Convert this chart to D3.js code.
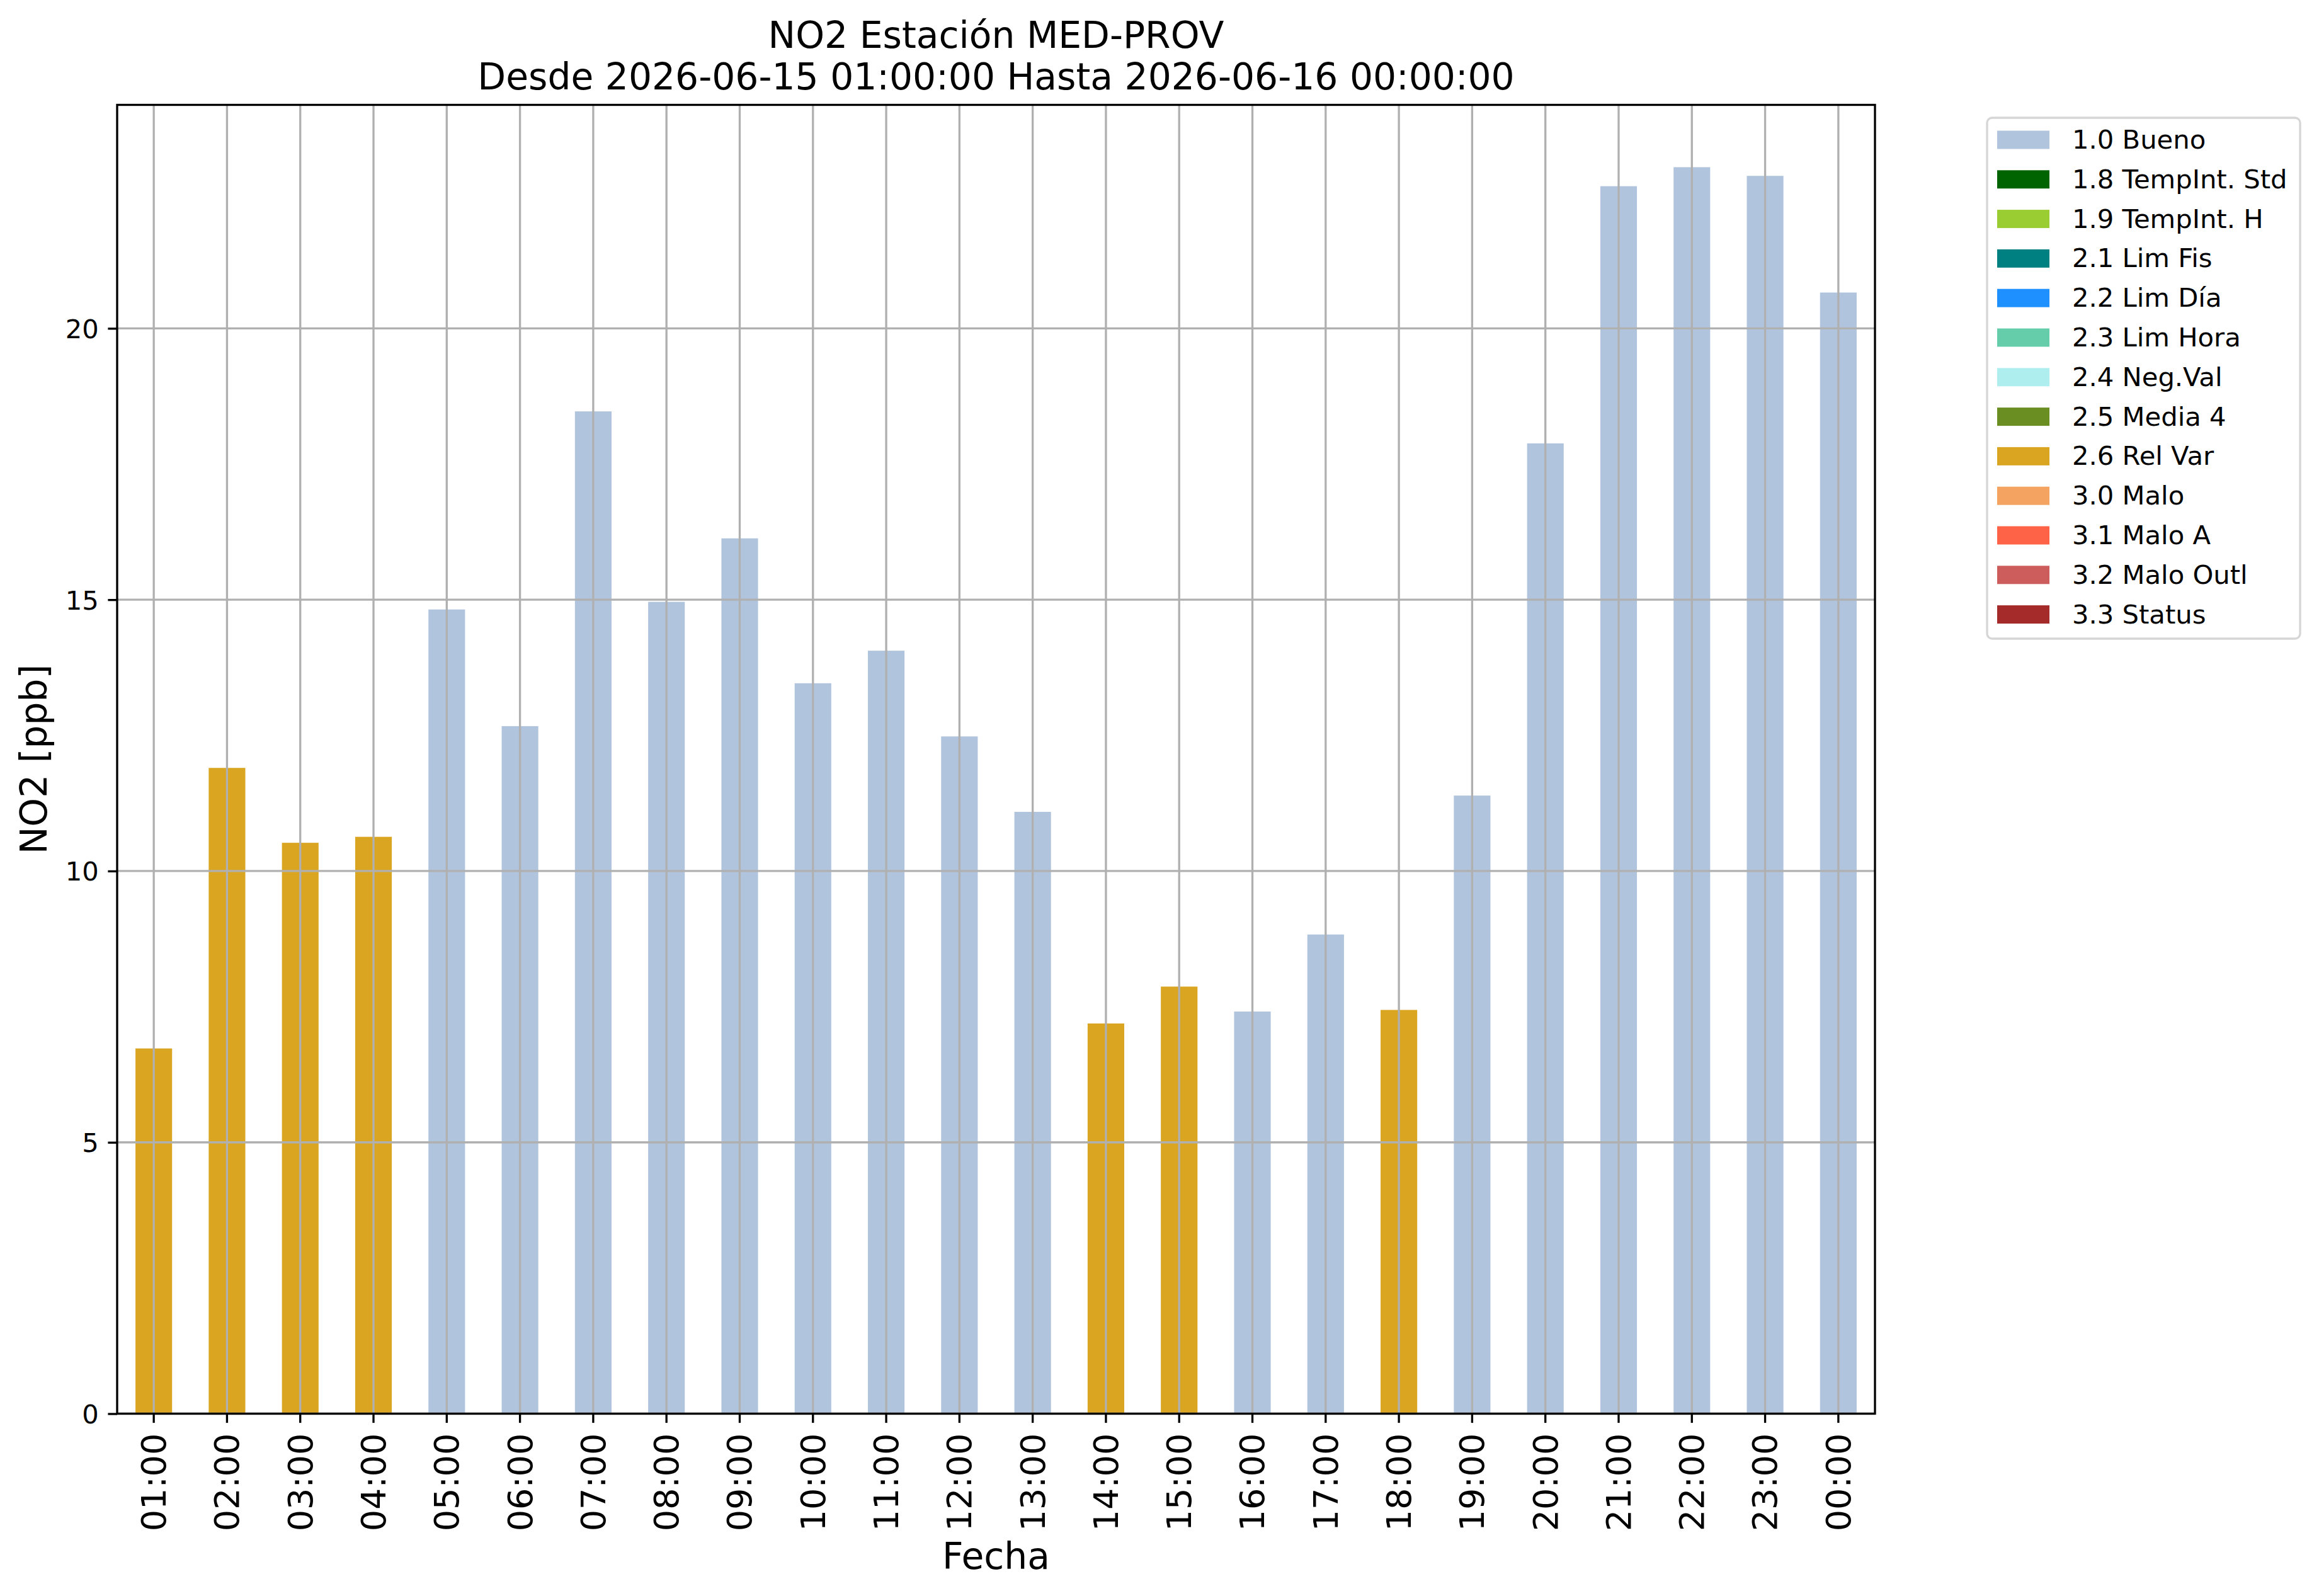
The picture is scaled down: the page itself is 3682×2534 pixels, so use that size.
<!DOCTYPE html>
<html>
<head>
<meta charset="utf-8">
<script src="https://cdn.jsdelivr.net/npm/d3@7"></script>
<style>
body { margin: 0; background: #fff; }
text { font-family: "DejaVu Sans", sans-serif; fill: #000; }
</style>
</head>
<body>
<div id="chart"></div>
<script>

// hourly NO2 values, MED-PROV
var hours = ["01:00","02:00","03:00","04:00","05:00","06:00","07:00","08:00",
    "09:00","10:00","11:00","12:00","13:00","14:00","15:00","16:00",
    "17:00","18:00","19:00","20:00","21:00","22:00","23:00","00:00"];

var no2 = [6.73, 11.9, 10.52, 10.63, 14.82, 12.67, 18.47, 14.96,
    16.13, 13.46, 14.06, 12.48, 11.09, 7.19, 7.87, 7.41,
    8.83, 7.44, 11.39, 17.88, 22.62, 22.97, 22.81, 20.66];

// quality flag of each hour
var flags = ["2.6","2.6","2.6","2.6","1.0","1.0","1.0","1.0",
    "1.0","1.0","1.0","1.0","1.0","2.6","2.6","1.0",
    "1.0","2.6","1.0","1.0","1.0","1.0","1.0","1.0"];

/*legend*/
var flagCodes = ["1.0","1.8","1.9","2.1","2.2","2.3","2.4","2.5","2.6","3.0","3.1","3.2","3.3"];
var flagNames = ["1.0 Bueno","1.8 TempInt. Std","1.9 TempInt. H","2.1 Lim Fis","2.2 Lim Día",
    "2.3 Lim Hora","2.4 Neg.Val","2.5 Media 4","2.6 Rel Var","3.0 Malo","3.1 Malo A",
    "3.2 Malo Outl","3.3 Status"];
var flagColors = ["lightsteelblue","darkgreen","yellowgreen","teal","dodgerblue",
    "mediumaquamarine","paleturquoise","olivedrab","goldenrod","sandybrown",
    "tomato","indianred","brown"];

var yTicks = [0, 5, 10, 15, 20];

var width = 3682, height = 2534;
var margin = {left: 186, right: 705, top: 166.5, bottom: 289.5};
var lw = 3.33;       // 0.8pt
var tickLen = 14.6;  // 3.5pt

var svg = d3.select("#chart")
    .append("svg")
    .attr("width", width)
    .attr("height", height);

var x = d3.scaleBand()
    .domain(hours)
    .range([margin.left, width - margin.right])
    .paddingInner(0.5)
    .paddingOuter(0.25);

var y = d3.scaleLinear()
    .domain([0, d3.max(no2) * 1.05])
    .range([height - margin.bottom, margin.top]);

var color = d3.scaleOrdinal().domain(flagCodes).range(flagColors);

var rows = hours.map(function(h, i){
    return {hour: h, value: no2[i], flag: flags[i]};
});

// bars
svg.append("g")
    .selectAll("rect")
    .data(rows)
    .enter()
    .append("rect")
    .attr("x", function(d){ return x(d.hour); })
    .attr("y", function(d){ return y(d.value); })
    .attr("width", x.bandwidth())
    .attr("height", function(d){ return y(0) - y(d.value); })
    .style("fill", function(d){ return color(d.flag); });

// grid (drawn over the bars)
var grid = svg.append("g")
    .style("stroke", "#b0b0b0")
    .style("stroke-width", lw);

grid.selectAll("line.gx")
    .data(hours)
    .enter()
    .append("line")
    .attr("class", "gx")
    .attr("x1", function(d){ return x(d) + x.bandwidth() / 2; })
    .attr("x2", function(d){ return x(d) + x.bandwidth() / 2; })
    .attr("y1", margin.top)
    .attr("y2", height - margin.bottom);

grid.selectAll("line.gy")
    .data(yTicks)
    .enter()
    .append("line")
    .attr("class", "gy")
    .attr("x1", margin.left)
    .attr("x2", width - margin.right)
    .attr("y1", function(d){ return y(d); })
    .attr("y2", function(d){ return y(d); });

// axes
var xAxis = svg.append("g")
    .attr("transform", "translate(0," + (height - margin.bottom) + ")")
    .call(d3.axisBottom(x).tickSize(tickLen).tickPadding(0));

xAxis.select(".domain").remove();
xAxis.selectAll(".tick line").style("stroke", "#000").style("stroke-width", lw);
xAxis.selectAll(".tick text")
    .attr("x", 0)
    .attr("y", 0)
    .attr("dy", "0.35em")
    .attr("transform", "translate(0," + (tickLen * 2 + 2) + ") rotate(-90)")
    .attr("text-anchor", "end")
    .attr("font-family", "DejaVu Sans")
    .attr("font-size", 54);

var yAxis = svg.append("g")
    .attr("transform", "translate(" + margin.left + ",0)")
    .call(d3.axisLeft(y).tickValues(yTicks).tickFormat(d3.format("d"))
        .tickSize(tickLen).tickPadding(tickLen));

yAxis.select(".domain").remove();
yAxis.selectAll(".tick line").style("stroke", "#000").style("stroke-width", lw);
yAxis.selectAll(".tick text")
    .attr("dy", "0.36em")
    .attr("font-family", "DejaVu Sans")
    .attr("font-size", 41.7);

// frame
svg.append("rect")
    .attr("x", margin.left)
    .attr("y", margin.top)
    .attr("width", width - margin.left - margin.right)
    .attr("height", height - margin.top - margin.bottom)
    .style("fill", "none")
    .style("stroke", "#000")
    .style("stroke-width", lw);

// labels
var cx = (margin.left + width - margin.right) / 2;

svg.append("text")
    .text("NO2 Estación MED-PROV")
    .attr("x", cx)
    .attr("y", 76)
    .attr("text-anchor", "middle")
    .attr("font-size", 58.3);

svg.append("text")
    .text("Desde 2026-06-15 01:00:00 Hasta 2026-06-16 00:00:00")
    .attr("x", cx)
    .attr("y", 142)
    .attr("text-anchor", "middle")
    .attr("font-size", 58.3);

svg.append("text")
    .text("Fecha")
    .attr("x", cx)
    .attr("y", 2491)
    .attr("text-anchor", "middle")
    .attr("font-size", 58.3);

svg.append("text")
    .text("NO2 [ppb]")
    .attr("transform", "translate(74," + ((margin.top + height - margin.bottom) / 2) + ") rotate(-90)")
    .attr("text-anchor", "middle")
    .attr("font-size", 58.3);

// legend
var leg = {x: 3155, y: 187, w: 497, h: 827, row: 62.8};

var legend = svg.append("g");

legend.append("rect")
    .attr("x", leg.x)
    .attr("y", leg.y)
    .attr("width", leg.w)
    .attr("height", leg.h)
    .attr("rx", 8)
    .style("fill", "#fff")
    .style("stroke", "#d6d6d6")
    .style("stroke-width", lw);

var item = legend.selectAll("g.item")
    .data(flagNames)
    .enter()
    .append("g")
    .attr("class", "item")
    .attr("transform", function(d, i){
        return "translate(" + leg.x + "," + (leg.y + 35 + i * leg.row) + ")";
    });

item.append("rect")
    .attr("x", 16)
    .attr("y", -14.5)
    .attr("width", 83)
    .attr("height", 29)
    .style("fill", function(d, i){ return color(flagCodes[i]); });

item.append("text")
    .text(function(d){ return d; })
    .attr("x", 135)
    .attr("y", 14)
    .attr("font-size", 41.7);

</script>
</body>
</html>
